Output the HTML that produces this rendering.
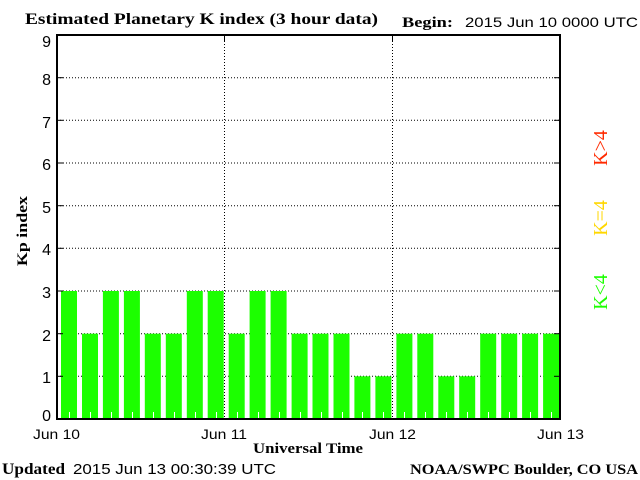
<!DOCTYPE html>
<html><head><style>body{margin:0;background:#fff}svg{display:block}</style></head><body>
<svg width="640" height="480" xmlns="http://www.w3.org/2000/svg">
<rect width="640" height="480" fill="#fff"/>
<g stroke="#000" stroke-width="1" stroke-dasharray="1,2">
<line x1="57" y1="77.7" x2="560" y2="77.7"/><line x1="57" y1="120.3" x2="560" y2="120.3"/>
<line x1="57" y1="163" x2="560" y2="163"/><line x1="57" y1="205.7" x2="560" y2="205.7"/>
<line x1="57" y1="248.3" x2="560" y2="248.3"/><line x1="57" y1="291" x2="560" y2="291"/>
<line x1="57" y1="333.7" x2="560" y2="333.7"/><line x1="57" y1="376.3" x2="560" y2="376.3"/>
<line x1="224.5" y1="35" x2="224.5" y2="419"/><line x1="392.5" y1="35" x2="392.5" y2="419"/>
</g>
<g fill="#1cff00">
<rect x="61" y="291" width="16" height="128"/>
<rect x="82" y="333.7" width="16" height="85.3"/>
<rect x="102.9" y="291" width="16" height="128"/>
<rect x="123.9" y="291" width="16" height="128"/>
<rect x="144.8" y="333.7" width="16" height="85.3"/>
<rect x="165.8" y="333.7" width="16" height="85.3"/>
<rect x="186.8" y="291" width="16" height="128"/>
<rect x="207.7" y="291" width="16" height="128"/>
<rect x="228.7" y="333.7" width="16" height="85.3"/>
<rect x="249.6" y="291" width="16" height="128"/>
<rect x="270.6" y="291" width="16" height="128"/>
<rect x="291.6" y="333.7" width="16" height="85.3"/>
<rect x="312.5" y="333.7" width="16" height="85.3"/>
<rect x="333.5" y="333.7" width="16" height="85.3"/>
<rect x="354.4" y="376.3" width="16" height="42.7"/>
<rect x="375.4" y="376.3" width="16" height="42.7"/>
<rect x="396.4" y="333.7" width="16" height="85.3"/>
<rect x="417.3" y="333.7" width="16" height="85.3"/>
<rect x="438.3" y="376.3" width="16" height="42.7"/>
<rect x="459.2" y="376.3" width="16" height="42.7"/>
<rect x="480.2" y="333.7" width="16" height="85.3"/>
<rect x="501.2" y="333.7" width="16" height="85.3"/>
<rect x="522.1" y="333.7" width="16" height="85.3"/>
<rect x="543.1" y="333.7" width="16" height="85.3"/>
</g>
<g stroke="#fff" stroke-width="1">
<line x1="69.5" y1="412" x2="69.5" y2="419"/><line x1="90.5" y1="412" x2="90.5" y2="419"/><line x1="111.5" y1="412" x2="111.5" y2="419"/><line x1="132.5" y1="412" x2="132.5" y2="419"/><line x1="153.5" y1="412" x2="153.5" y2="419"/><line x1="174.5" y1="412" x2="174.5" y2="419"/><line x1="195.5" y1="412" x2="195.5" y2="419"/><line x1="216.5" y1="412" x2="216.5" y2="419"/><line x1="237.5" y1="412" x2="237.5" y2="419"/><line x1="258.5" y1="412" x2="258.5" y2="419"/><line x1="279.5" y1="412" x2="279.5" y2="419"/><line x1="300.5" y1="412" x2="300.5" y2="419"/><line x1="321.5" y1="412" x2="321.5" y2="419"/><line x1="342.5" y1="412" x2="342.5" y2="419"/><line x1="362.5" y1="412" x2="362.5" y2="419"/><line x1="383.5" y1="412" x2="383.5" y2="419"/><line x1="404.5" y1="412" x2="404.5" y2="419"/><line x1="425.5" y1="412" x2="425.5" y2="419"/><line x1="446.5" y1="412" x2="446.5" y2="419"/><line x1="467.5" y1="412" x2="467.5" y2="419"/><line x1="488.5" y1="412" x2="488.5" y2="419"/><line x1="509.5" y1="412" x2="509.5" y2="419"/><line x1="530.5" y1="412" x2="530.5" y2="419"/><line x1="551.5" y1="412" x2="551.5" y2="419"/>
</g>
<rect x="57" y="35" width="503" height="384" fill="none" stroke="#000" stroke-width="2"/>
<g stroke="#000" stroke-width="1">
<line x1="57" y1="77.7" x2="63" y2="77.7"/><line x1="57" y1="120.3" x2="63" y2="120.3"/><line x1="57" y1="163" x2="63" y2="163"/><line x1="57" y1="205.7" x2="63" y2="205.7"/><line x1="57" y1="248.3" x2="63" y2="248.3"/><line x1="57" y1="291" x2="63" y2="291"/><line x1="57" y1="333.7" x2="63" y2="333.7"/><line x1="57" y1="376.3" x2="63" y2="376.3"/>
<line x1="554" y1="77.7" x2="560" y2="77.7"/><line x1="554" y1="120.3" x2="560" y2="120.3"/><line x1="554" y1="163" x2="560" y2="163"/><line x1="554" y1="205.7" x2="560" y2="205.7"/><line x1="554" y1="248.3" x2="560" y2="248.3"/><line x1="554" y1="291" x2="560" y2="291"/><line x1="554" y1="333.7" x2="560" y2="333.7"/><line x1="554" y1="376.3" x2="560" y2="376.3"/>
<line x1="224.5" y1="35" x2="224.5" y2="42"/><line x1="392.5" y1="35" x2="392.5" y2="42"/>
</g>
<g font-family="Liberation Sans, sans-serif" font-size="16" fill="#000" text-anchor="end">
<text x="51" y="47">9</text><text x="51" y="85">8</text><text x="51" y="128">7</text><text x="51" y="170">6</text><text x="51" y="213">5</text><text x="51" y="255">4</text><text x="51" y="298">3</text><text x="51" y="341">2</text><text x="51" y="383">1</text><text x="51" y="421">0</text>
</g>
<g font-family="Liberation Sans, sans-serif" font-size="14" fill="#000">
<text x="33" y="439" textLength="47" lengthAdjust="spacingAndGlyphs">Jun 10</text>
<text x="201" y="439" textLength="46" lengthAdjust="spacingAndGlyphs">Jun 11</text>
<text x="369" y="439" textLength="47" lengthAdjust="spacingAndGlyphs">Jun 12</text>
<text x="537" y="439" textLength="47" lengthAdjust="spacingAndGlyphs">Jun 13</text>
</g>
<text x="253" y="453" font-family="Liberation Serif, serif" font-weight="bold" font-size="15" textLength="110" lengthAdjust="spacingAndGlyphs">Universal Time</text>
<text transform="translate(27,266) rotate(-90)" font-family="Liberation Serif, serif" font-weight="bold" font-size="15" textLength="70" lengthAdjust="spacingAndGlyphs">Kp index</text>
<text x="25" y="24" font-family="Liberation Serif, serif" font-weight="bold" font-size="16" textLength="353" lengthAdjust="spacingAndGlyphs">Estimated Planetary K index (3 hour data)</text>
<text x="402" y="27" font-family="Liberation Serif, serif" font-weight="bold" font-size="15" textLength="51" lengthAdjust="spacingAndGlyphs">Begin:</text>
<text x="465" y="27" font-family="Liberation Sans, sans-serif" font-size="14" textLength="173" lengthAdjust="spacingAndGlyphs">2015 Jun 10 0000 UTC</text>
<text x="2" y="474" font-family="Liberation Serif, serif" font-weight="bold" font-size="16" textLength="63" lengthAdjust="spacingAndGlyphs">Updated</text>
<text x="73" y="474" font-family="Liberation Sans, sans-serif" font-size="15" textLength="203" lengthAdjust="spacingAndGlyphs">2015 Jun 13 00:30:39 UTC</text>
<text x="410" y="474" font-family="Liberation Serif, serif" font-weight="bold" font-size="15" textLength="228" lengthAdjust="spacingAndGlyphs">NOAA/SWPC Boulder, CO USA</text>
<g font-family="Liberation Serif, serif" font-size="20" text-anchor="middle">
<text transform="translate(607,148) rotate(-90)" fill="#ff2a00">K&gt;4</text>
<text transform="translate(607,218) rotate(-90)" fill="#ffd700">K=4</text>
<text transform="translate(607,292) rotate(-90)" fill="#1cff00">K&lt;4</text>
</g>
</svg>
</body></html>
